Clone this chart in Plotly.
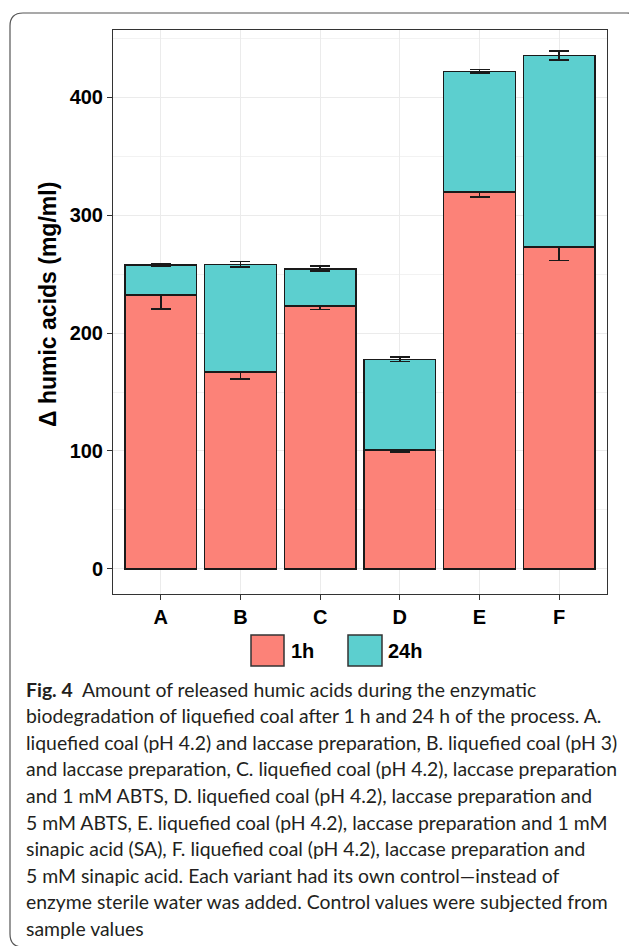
import plotly.graph_objects as go

categories = ["A", "B", "C", "D", "E", "F"]
h1_values = [232, 167, 223, 101, 319.7, 273]
h1_errors = [11.7, 6.2, 3.0, 2.0, 4.4, 11.4]
h24_values = [25.6, 91.2, 31.5, 76.7, 102.1, 162.3]
h24_errors = [1.1, 2.3, 2.1, 2.0, 1.6, 3.9]
series_names = ["1h", "24h"]
y_tickvals = [0, 100, 200, 300, 400]

caption_lines = [
    "<b>Fig.\u00a04</b>\u00a0\u00a0Amount of released humic acids during the enzymatic",
    "biodegradation of liquefied coal after 1 h and 24 h of the process. A.",
    "liquefied coal (pH 4.2) and laccase preparation, B. liquefied coal (pH 3)",
    "and laccase preparation, C. liquefied coal (pH 4.2), laccase preparation",
    "and 1 mM ABTS, D. liquefied coal (pH 4.2), laccase preparation and",
    "5 mM ABTS, E. liquefied coal (pH 4.2), laccase preparation and 1 mM",
    "sinapic acid (SA), F. liquefied coal (pH 4.2), laccase preparation and",
    "5 mM sinapic acid. Each variant had its own control\u2014instead of",
    "enzyme sterile water was added. Control values were subjected from",
    "sample values",
]

W, H = 629, 946
ML, MR, MT, MB = 113, 22, 30, 352
PW = W - ML - MR
PH = H - MT - MB


def px(x):
    return (x - ML) / PW


def py(y):
    return (H - MB - y) / PH


c1 = "#FC8278"
c24 = "#5CCFCF"
edge = "#1a1a1a"
AX_FONT = "Liberation Sans, Arial, sans-serif"

fig = go.Figure()
fig.add_trace(go.Bar(
    x=categories, y=h1_values, name=series_names[0],
    marker=dict(color=c1, line=dict(color=edge, width=1.6)),
    error_y=dict(type="data", array=h1_errors, visible=True, color=edge, thickness=1.6, width=10),
    showlegend=False,
))
fig.add_trace(go.Bar(
    x=categories, y=h24_values, name=series_names[1],
    marker=dict(color=c24, line=dict(color=edge, width=1.6)),
    error_y=dict(type="data", array=h24_errors, visible=True, color=edge, thickness=1.6, width=10),
    showlegend=False,
))

fig.update_layout(
    width=W, height=H,
    margin=dict(l=ML, r=MR, t=MT, b=MB, pad=0),
    barmode="stack", bargap=0.1,
    plot_bgcolor="white", paper_bgcolor="white",
    showlegend=False,
)
fig.update_xaxes(
    range=[-0.6, 5.6], showgrid=True, gridcolor="#EBEBEB", gridwidth=1.2,
    showline=True, mirror=True, linecolor="#333333", linewidth=1,
    ticks="outside", ticklen=5, tickcolor="#333333", tickwidth=1,
    tickfont=dict(family=AX_FONT, size=20, color="black", weight="bold"),
    zeroline=False,
)
fig.update_yaxes(
    range=[-21.2, 456.8], tickvals=y_tickvals, showgrid=True, gridcolor="#EBEBEB", gridwidth=1.2,
    minor=dict(tickvals=[50, 150, 250, 350, 450], showgrid=True, gridcolor="#F2F2F2", gridwidth=0.7, ticks=""),
    showline=True, mirror=True, linecolor="#333333", linewidth=1,
    ticks="outside", ticklen=5, tickcolor="#333333", tickwidth=1,
    tickfont=dict(family=AX_FONT, size=20, color="black", weight="bold"),
    zeroline=False,
)

annotations = [
    dict(text="\u0394 humic acids (mg/ml)", xref="paper", yref="paper", x=px(48), y=py(305),
         textangle=-90, showarrow=False, xanchor="center", yanchor="middle",
         font=dict(family=AX_FONT, size=23, color="black", weight="bold")),
    dict(text=series_names[0], xref="paper", yref="paper", x=px(289), y=py(651),
         showarrow=False, xanchor="left", yanchor="middle",
         font=dict(family=AX_FONT, size=20, color="black", weight="bold")),
    dict(text=series_names[1], xref="paper", yref="paper", x=px(386), y=py(651),
         showarrow=False, xanchor="left", yanchor="middle",
         font=dict(family=AX_FONT, size=20, color="black", weight="bold")),
]
for i, line in enumerate(caption_lines):
    annotations.append(dict(
        text=line, xref="paper", yref="paper", x=px(24), y=py(689 + i * 26.62),
        showarrow=False, xanchor="left", yanchor="middle", align="left",
        font=dict(family="Lato, sans-serif", size=19.4, color="#231F20"),
    ))
fig.update_layout(annotations=annotations)

# legend keys and frame
shapes = [
    dict(type="rect", xref="paper", yref="paper", x0=px(251), x1=px(284), y0=py(666), y1=py(635),
         fillcolor=c1, line=dict(color="#333333", width=1.5)),
    dict(type="rect", xref="paper", yref="paper", x0=px(348), x1=px(382), y0=py(666), y1=py(635),
         fillcolor=c24, line=dict(color="#333333", width=1.5)),
]
L, T, R, B, r = 10, 13, 640, 947, 13
path = (
    f"M {px(L+r)},{py(T)} L {px(R-r)},{py(T)} Q {px(R)},{py(T)} {px(R)},{py(T+r)} "
    f"L {px(R)},{py(B-r)} Q {px(R)},{py(B)} {px(R-r)},{py(B)} "
    f"L {px(L+r)},{py(B)} Q {px(L)},{py(B)} {px(L)},{py(B-r)} "
    f"L {px(L)},{py(T+r)} Q {px(L)},{py(T)} {px(L+r)},{py(T)} Z"
)
shapes.append(dict(type="path", xref="paper", yref="paper", path=path,
                   line=dict(color="#555555", width=1.2), fillcolor="rgba(0,0,0,0)", layer="below"))
fig.update_layout(shapes=shapes)

fig.write_html(
    "out.html",
    config={"displayModeBar": False},
    post_script="document.body.style.margin='0';document.body.style.overflow='hidden';",
)
